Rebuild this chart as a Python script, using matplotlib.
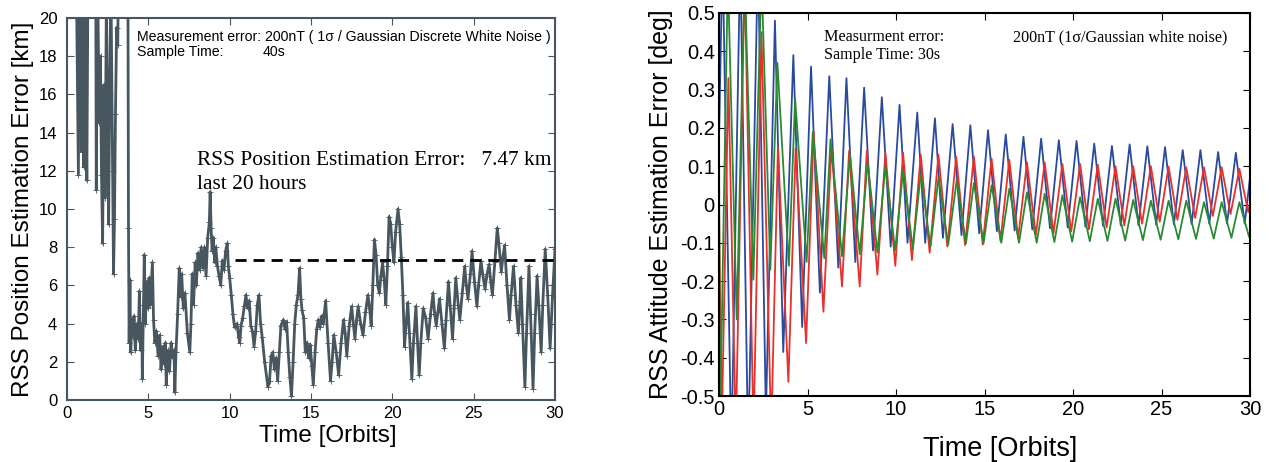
import matplotlib
matplotlib.use("Agg")
import matplotlib.pyplot as plt
import numpy as np

# ---------------- data: left panel (RSS position error, km) ----------------
pos_t = [0.55, 0.70, 0.78, 0.90, 0.96, 1.02, 1.08, 1.22, 1.30, 1.76, 1.80, 1.86, 1.98, 2.06, 2.12, 2.19,
         2.26, 2.34, 2.42, 2.56, 2.62, 2.70, 2.80, 2.86, 2.92, 2.98, 3.05, 3.12, 3.18, 3.74, 3.78, 3.82,
         3.87, 3.92, 3.98, 4.05, 4.12, 4.20, 4.30, 4.38, 4.45, 4.52, 4.60, 4.63, 4.70, 4.75, 4.82, 4.90,
         4.98, 5.05, 5.12, 5.25, 5.32, 5.40, 5.50, 5.60, 5.70, 5.78, 5.88, 5.98, 6.05, 6.10, 6.20, 6.30,
         6.40, 6.50, 6.58, 6.63, 6.70, 6.80, 6.90, 6.98, 7.05, 7.15, 7.25, 7.40, 7.55, 7.62, 7.70, 7.78,
         7.88, 7.95, 8.05, 8.15, 8.25, 8.35, 8.45, 8.55, 8.65, 8.75, 8.80, 8.86, 8.92, 9.00, 9.08, 9.15,
         9.25, 9.35, 9.45, 9.55, 9.65, 9.75, 9.85, 9.92, 10.00, 10.10, 10.20, 10.30,
         10.45, 10.55, 10.62, 10.70, 10.80, 10.90, 11.00, 11.10, 11.20, 11.30, 11.40, 11.50, 11.60, 11.70,
         11.80, 11.90, 12.00, 12.15, 12.35, 12.45, 12.55, 12.65, 12.75, 12.85, 12.95, 13.05, 13.15, 13.30,
         13.40, 13.50, 13.60, 13.70, 13.80, 13.90, 14.00, 14.10, 14.20, 14.30, 14.38, 14.45, 14.55, 14.65,
         14.75, 14.85, 14.95, 15.05, 15.14, 15.25, 15.35, 15.45, 15.55, 15.65, 15.75, 15.90, 16.05, 16.20,
         16.30, 16.40, 16.55, 16.70, 16.85, 17.00, 17.10, 17.20, 17.35, 17.50, 17.60, 17.70, 17.80, 17.90,
         18.05, 18.20, 18.35, 18.50, 18.60, 18.70, 18.80, 18.90, 19.00, 19.10, 19.20, 19.30, 19.40, 19.50,
         19.60, 19.70, 19.80, 19.90, 20.00, 20.10, 20.20, 20.35, 20.45, 20.55, 20.65, 20.75, 20.85, 20.95,
         21.05, 21.20, 21.30, 21.45, 21.55, 21.65, 21.75, 21.90, 22.05, 22.20, 22.35, 22.50, 22.60, 22.70,
         22.80, 22.90, 23.05, 23.20, 23.30, 23.45, 23.55, 23.70, 23.80, 23.90, 24.05, 24.15, 24.30, 24.45,
         24.55, 24.65, 24.80, 24.90, 25.05, 25.20, 25.30, 25.45, 25.55, 25.70, 25.80, 25.95, 26.05, 26.15,
         26.30, 26.45, 26.55, 26.70, 26.80, 26.90, 27.05, 27.20, 27.30, 27.45, 27.60, 27.75, 27.85, 27.90,
         28.00, 28.15, 28.25, 28.40, 28.50, 28.65, 28.75, 28.90, 29.00, 29.15, 29.25, 29.40, 29.55, 29.70,
         29.85, 30.00]
pos_v = [24, 11.8, 24, 13.0, 24, 12.2, 24, 11.5, 24, 24, 11.0, 24, 14.5, 18, 11.8, 8.2,
         16.5, 10.6, 21, 9.2, 16, 22, 12, 6.6, 9.5, 15, 19.5, 18.6, 24, 24, 9.0, 3.0,
         6.3, 2.5, 4.2, 3.3, 4.4, 2.6, 4.0, 3.2, 5.7, 2.6, 4.0, 1.1, 5.0, 7.6, 4.0, 6.2,
         4.8, 6.4, 5.0, 7.2, 4.2, 3.0, 3.6, 2.3, 3.4, 1.6, 2.8, 1.9, 3.0, 0.8, 2.6, 1.5,
         3.0, 2.2, 2.6, 0.4, 2.5, 4.5, 6.9, 5.4, 6.6, 4.8, 5.6, 3.5, 2.5, 4.0, 6.6, 5.0,
         7.2, 6.0, 7.7, 6.8, 8.0, 6.9, 8.0, 6.5, 8.5, 9.3, 10.9, 9.0, 7.8, 8.5, 7.2, 8.0,
         7.0, 6.5, 6.0, 7.3, 6.8, 7.8, 8.2, 7.0, 6.4, 5.5, 4.5, 3.8,
         4.0, 3.3, 3.0, 3.9, 4.3, 4.9, 5.5, 4.8, 5.2, 3.9, 3.6, 2.8, 3.6, 5.0,
         5.5, 4.0, 3.3, 2.0, 0.7, 1.0, 2.3, 2.5, 1.6, 2.2, 1.0, 2.5, 3.9, 4.2,
         3.7, 4.1, 2.5, 1.2, 0.2, 2.0, 4.0, 5.0, 5.5, 6.9, 5.3, 4.7, 4.3, 2.5,
         3.0, 2.2, 2.9, 1.8, 0.8, 2.5, 3.7, 4.2, 3.8, 4.4, 4.0, 5.2, 3.0, 1.0,
         2.0, 3.4, 2.5, 1.3, 3.0, 4.2, 3.5, 2.3, 3.9, 4.9, 4.0, 3.2, 4.2, 4.9,
         4.0, 3.4, 4.6, 5.5, 4.8, 3.9, 6.0, 8.4, 7.6, 6.0, 5.6, 6.5, 7.2, 6.3,
         5.0, 7.0, 9.6, 9.2, 8.0, 7.2, 8.8, 10.0, 9.2, 7.5, 5.5, 2.8, 4.0, 5.1,
         3.5, 1.1, 3.0, 4.9, 3.0, 1.3, 3.0, 4.8, 4.3, 3.2, 4.5, 5.6, 4.5, 3.9,
         4.6, 5.3, 4.0, 2.7, 4.2, 6.2, 5.0, 3.2, 4.8, 6.4, 5.0, 4.2, 5.6, 7.0,
         6.0, 5.3, 6.6, 7.8, 6.2, 4.9, 6.0, 7.3, 6.6, 5.8, 6.5, 7.1, 6.2, 5.5,
         7.2, 9.0, 8.2, 6.7, 7.5, 8.1, 6.0, 4.2, 5.5, 7.0, 5.0, 3.5, 5.2, 6.4,
         4.0, 0.7, 3.5, 7.0, 4.5, 0.6, 3.5, 6.5, 5.0, 2.5, 5.0, 7.9, 5.5, 2.7,
         5.5, 7.9]
mean_start = 10.3
mean_end = 30.0
mean_value = 7.35

# ---------------- data: right panel (RSS attitude error, deg) ----------------
blue_t = [0.0, 0.2, 0.7, 1.2, 1.65, 2.2, 2.65, 3.16, 3.63, 4.2, 4.7, 5.2, 5.7, 6.23, 6.74, 7.2, 7.7,
          8.2, 8.7, 9.2, 9.7, 10.2, 10.65, 11.2, 11.65, 12.2, 12.65, 13.2, 13.7, 14.2, 14.7, 15.2,
          15.7, 16.2, 16.7, 17.2, 17.7, 18.2, 18.7, 19.2, 19.7, 20.2, 20.7, 21.2, 21.7, 22.2, 22.7,
          23.2, 23.7, 24.2, 24.7, 25.2, 25.7, 26.2, 26.7, 27.2, 27.7, 28.2, 28.7, 29.2, 29.7, 30.0]
blue_v = [0.17, 0.65, -0.65, 0.65, -0.65, 0.65, -0.55, 0.48, -0.385, 0.39, -0.32, 0.36, -0.23, 0.335,
          -0.165, 0.33, -0.15, 0.305, -0.12, 0.28, -0.11, 0.26, -0.10, 0.24, -0.10, 0.225, -0.087,
          0.21, -0.08, 0.207, -0.075, 0.194, -0.07, 0.183, -0.068, 0.177, -0.065, 0.172, -0.062,
          0.168, -0.06, 0.166, -0.058, 0.159, -0.056, 0.153, -0.055, 0.157, -0.054, 0.152, -0.053,
          0.15, -0.052, 0.142, -0.051, 0.142, -0.05, 0.137, -0.05, 0.135, -0.05, 0.07]

red_t = [0.0, 0.15, 0.53, 0.95, 1.45, 1.95, 2.4, 2.95, 3.33, 3.92, 4.33, 4.92, 5.35, 5.9, 6.35, 6.95,
         7.35, 7.95, 8.35, 8.95, 9.4, 9.96, 10.4, 10.9, 11.4, 11.9, 12.4, 12.9, 13.4, 13.9, 14.4,
         14.9, 15.4, 15.9, 16.4, 16.9, 17.4, 17.9, 18.4, 18.9, 19.4, 19.9, 20.4, 20.9, 21.4, 21.9,
         22.4, 22.9, 23.4, 23.9, 24.4, 24.9, 25.4, 25.9, 26.4, 26.9, 27.4, 27.9, 28.4, 28.9, 29.4,
         29.9, 30.0]
red_v = [0.0, -0.6, 0.33, -0.6, 0.6, -0.6, 0.45, -0.6, 0.15, -0.463, 0.146, -0.362, 0.19, -0.28, 0.15,
         -0.214, 0.14, -0.214, 0.14, -0.183, 0.135, -0.16, 0.135, -0.145, 0.13, -0.126, 0.13, -0.11,
         0.125, -0.106, 0.125, -0.105, 0.12, -0.095, 0.117, -0.088, 0.11, -0.08, 0.11, -0.075, 0.106,
         -0.07, 0.106, -0.065, 0.104, -0.06, 0.1, -0.055, 0.1, -0.05, 0.1, -0.045, 0.099, -0.04,
         0.097, -0.035, 0.097, -0.03, 0.097, -0.025, 0.093, -0.02, 0.0]

green_t = [0.0, 0.05, 0.5, 1.0, 1.45, 1.94, 2.4, 2.9, 3.3, 3.95, 4.3, 4.95, 5.3, 5.95, 6.3, 6.95,
           7.4, 7.95, 8.4, 8.95, 9.4, 9.95, 10.4, 10.95, 11.4, 11.95, 12.4, 12.95, 13.43, 13.95, 14.4,
           14.95, 15.4, 15.95, 16.4, 16.95, 17.4, 17.95, 18.4, 18.95, 19.4, 19.95, 20.4, 20.95, 21.4,
           21.95, 22.4, 22.95, 23.4, 23.95, 24.4, 24.95, 25.4, 25.95, 26.4, 26.95, 27.4, 27.95, 28.4,
           28.95, 29.4, 29.95, 30.0]
green_v = [0.2, -0.6, 0.6, -0.3, 0.6, -0.196, 0.6, -0.17, 0.37, -0.16, 0.277, -0.15, 0.19, -0.14,
           0.17, -0.135, 0.13, -0.13, 0.11, -0.125, 0.1, -0.12, 0.09, -0.115, 0.08, -0.11, 0.07,
           -0.105, 0.063, -0.102, 0.056, -0.101, 0.05, -0.1, 0.041, -0.1, 0.032, -0.1, 0.028, -0.098,
           0.024, -0.097, 0.019, -0.096, 0.015, -0.095, 0.015, -0.094, 0.012, -0.093, 0.01, -0.092,
           0.01, -0.091, 0.01, -0.09, 0.006, -0.089, 0.006, -0.087, 0.006, -0.085, -0.07]

# ---------------- figure ----------------
W, H = 1277, 462
fig = plt.figure(figsize=(W / 100, H / 100), dpi=100)

def fr(l, t, r, b):
    return [l / W, 1 - b / H, (r - l) / W, (b - t) / H]

slate = "#47565f"
SANS = "Liberation Sans"
SERIF = "Liberation Serif"

# left panel
ax1 = fig.add_axes(fr(67, 18, 555, 400))
ax1.plot(pos_t, pos_v, color=slate, lw=2.0, marker="+", ms=4.5, mew=0.6)
ax1.plot([mean_start, mean_end], [mean_value, mean_value], color="black", lw=2.0, ls=(0, (4, 2.5)))
ax1.set_xlim(0, 30)
ax1.set_ylim(0, 20)
ax1.set_xticks(range(0, 31, 5))
ax1.set_yticks(range(0, 21, 2))
ax1.tick_params(direction="in", top=True, right=True, labelsize=12, length=5, color=slate)
ax1.tick_params(axis="y", pad=7)
ax1.tick_params(axis="x", pad=4)
for s in ax1.spines.values():
    s.set_color(slate)
    s.set_linewidth(1.5)
ax1.set_xlabel("Time [Orbits]", fontsize=17.5, family=SANS, labelpad=3)
ax1.xaxis.set_label_coords(0.535, -0.055, transform=None) if False else None
ax1.set_ylabel("RSS Position Estimation Error [km]", fontsize=17.5, family=SANS, labelpad=3)
for lab in ax1.get_xticklabels() + ax1.get_yticklabels():
    lab.set_family(SANS)
ax1.xaxis.label.set_x(0.535)
ax1.text(0.143, 0.951, "Measurement error: 200nT ( 1σ / Gaussian Discrete White Noise )",
         transform=ax1.transAxes, fontsize=10.2, family=SANS, va="center")
ax1.text(0.143, 0.911, "Sample Time:", transform=ax1.transAxes, fontsize=10.2,
         family=SANS, va="center")
ax1.text(0.40, 0.911, "40s", transform=ax1.transAxes, fontsize=10.2,
         family=SANS, va="center")
ax1.text(0.266, 0.628, "RSS Position Estimation Error:   7.47 km", transform=ax1.transAxes,
         fontsize=15.4, family=SERIF, va="center")
ax1.text(0.266, 0.565, "last 20 hours", transform=ax1.transAxes,
         fontsize=15.4, family=SERIF, va="center")

# right panel
ax2 = fig.add_axes(fr(719, 13, 1250, 396))
ax2.plot(blue_t, blue_v, color="#2a4a9e", lw=1.3)
ax2.plot(red_t, red_v, color="#e8302c", lw=1.3)
ax2.plot(green_t, green_v, color="#2a8a32", lw=1.3)
ax2.set_xlim(0, 30)
ax2.set_ylim(-0.5, 0.5)
ax2.set_xticks(range(0, 31, 5))
ax2.set_yticks(np.round(np.arange(-0.5, 0.51, 0.1), 1))
ax2.set_yticklabels(["-0.5", "-0.4", "-0.3", "-0.2", "-0.1", "0", "0.1", "0.2", "0.3", "0.4", "0.5"])
ax2.tick_params(direction="in", top=True, right=True, labelsize=14.5, length=5, pad=3)
for s in ax2.spines.values():
    s.set_color("black")
    s.set_linewidth(1.5)
ax2.set_xlabel("Time [Orbits]", fontsize=19.5, family=SANS, labelpad=12)
ax2.set_ylabel("RSS Attitude Estimation Error [deg]", fontsize=18, family=SANS, labelpad=5)
ax2.xaxis.label.set_x(0.53)
for lab in ax2.get_xticklabels() + ax2.get_yticklabels():
    lab.set_family(SANS)
ax2.text(0.198, 0.937, "Measurment error:", transform=ax2.transAxes, fontsize=11.6,
         family=SERIF, va="center")
ax2.text(0.554, 0.937, "200nT (1σ/Gaussian white noise)", transform=ax2.transAxes, fontsize=11.6,
         family=SERIF, va="center")
ax2.text(0.198, 0.890, "Sample Time: 30s", transform=ax2.transAxes, fontsize=11.6,
         family=SERIF, va="center")

fig.savefig("out.png", dpi=100)
